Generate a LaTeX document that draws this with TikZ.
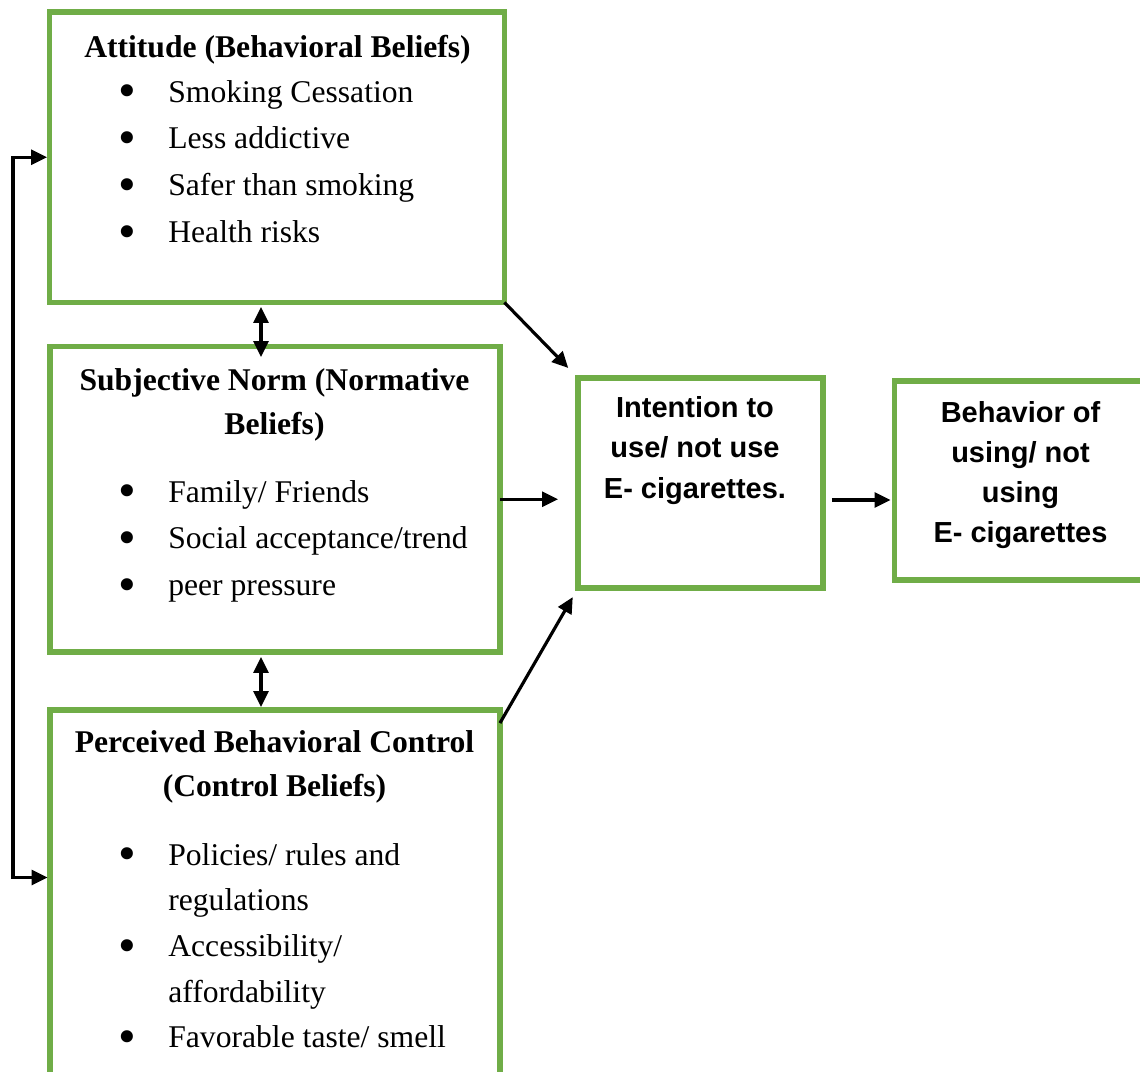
\documentclass[tikz,border=0pt]{standalone}
\usepackage{fontspec}
\setmainfont{Liberation Serif}
\setsansfont{Liberation Sans}
\usepackage{xcolor}
\usetikzlibrary{arrows.meta,calc}

\definecolor{boxgreen}{RGB}{112,173,71}
\newcommand{\blt}{\raisebox{-3.4pt}{\scalebox{1.6}{\textbullet}}}

\begin{document}
\begin{tikzpicture}[x=0.02cm,y=-0.02cm,>={Triangle[length=0.32cm,width=0.3cm]},
    beliefbox/.style={rectangle,draw=boxgreen,line width=3.1pt,inner sep=0pt,outer sep=0pt},
    title/.style={font=\fontsize{18}{25.6}\selectfont\bfseries,inner sep=0pt,anchor=base},
    items/.style={font=\fontsize{18}{26.7}\selectfont,inner sep=0pt,anchor=base west},
    sanslabel/.style={font=\sffamily\bfseries\fontsize{16.5}{23.2}\selectfont,inner sep=0pt,anchor=base},
    link/.style={line width=1.8pt}]

            \useasboundingbox (0,0) rectangle (1140,1072);

            % the five boxes
            \node[beliefbox,minimum width=9.1cm,minimum height=5.81cm] (att) at (277,157.25) {};
            \node[beliefbox,minimum width=9.0cm,minimum height=6.11cm] (sn) at (275,499.25) {};
            \node[beliefbox,minimum width=9.0cm,minimum height=7.3cm] (pbc) at (275,892.5) {};
            \node[beliefbox,minimum width=4.9cm,minimum height=4.2cm] (int) at (700.5,483) {};
            \node[beliefbox,minimum width=5.11cm,minimum height=3.98cm] (beh) at (1022.25,480.5) {};

            % texts
            \node[title] (atttitle) at (277.5,57) {Attitude (Behavioral Beliefs)};
            \node[items] (attlist) at (118,102) {\begin{tabular}[t]{@{}p{1.0cm}@{}l@{}}
                \blt & Smoking Cessation\\
                \blt & Less addictive\\
                \blt & Safer than smoking\\
                \blt & Health risks
            \end{tabular}};

            \node[title] (sntitle) at (274.5,390) {\begin{tabular}[t]{@{}c@{}}
                Subjective Norm (Normative\\ Beliefs)
            \end{tabular}};
            \node[items] (snlist) at (118,502) {\begin{tabular}[t]{@{}p{1.0cm}@{}l@{}}
                \blt & Family/ Friends\\
                \blt & Social acceptance/trend\\
                \blt & peer pressure
            \end{tabular}};

            \node[title] (pbctitle) at (274.5,752) {\begin{tabular}[t]{@{}c@{}}
                Perceived Behavioral Control\\ (Control Beliefs)
            \end{tabular}};
            \node[items,font=\fontsize{18}{26}\selectfont] (pbclist) at (118,865) {\begin{tabular}[t]{@{}p{1.0cm}@{}l@{}}
                \blt & Policies/ rules and\\
                & regulations\\
                \blt & Accessibility/\\
                & affordability\\
                \blt & Favorable taste/ smell
            \end{tabular}};

            \node[sanslabel] (inttext) at (695,417) {\begin{tabular}[t]{@{}c@{}}
                Intention to\\ use/ not use\\ E- cigarettes.
            \end{tabular}};
            \node[sanslabel,font=\sffamily\bfseries\fontsize{16.5}{22.9}\selectfont] (behtext) at (1020.5,422) {\begin{tabular}[t]{@{}c@{}}
                Behavior of\\ using/ not\\ using\\ E- cigarettes
            \end{tabular}};

            % connectors
            \draw[link,<->] ($(att.south)+(-16,4.5)$) to ($(sn.north)+(-14,10.5)$);
            \draw[link,<->] ($(sn.south)+(-14,5)$) to ($(pbc.north)+(-14,-3)$);
            \draw[link,->,shorten >=8pt] (att.south east) to (int.north west);
            \draw[link,->] (sn.east) to ($(sn.east -| int.west)+(-20,0)$);
            \draw[link,->,shorten >=6pt] ($(pbc.north east)+(0,13)$) to (int.south west);
            \draw[link,->] ($(int.east)+(9,17)$) to ($(int.east -| beh.west)+(-4,17)$);
            \draw[link,<->] ($(att.west)+(-2.5,0)$) -- ++(-34,0) |- ($(pbc.west)+(-2.5,-15)$);

        \end{tikzpicture}
\end{document}
